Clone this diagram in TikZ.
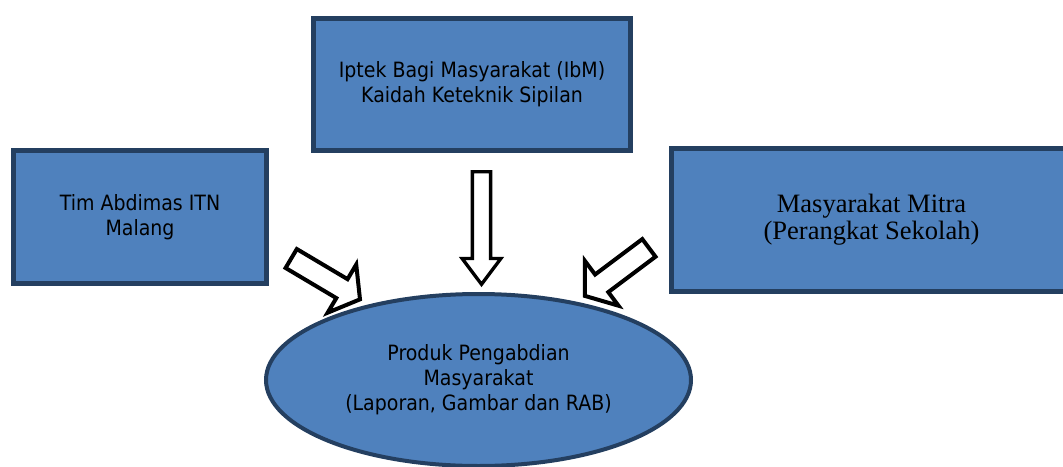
\documentclass[tikz,border=0pt]{standalone}
\usepackage{fontspec}
\setmainfont{Liberation Serif}
\newfontfamily\tah[FakeStretch=0.9]{DejaVu Sans}
\usetikzlibrary{shapes.geometric}
\definecolor{boxfill}{HTML}{4F81BD}
\definecolor{boxline}{HTML}{243F60}
\tikzset{
  bluebox/.style={draw=boxline, fill=boxfill, line width=3.75pt, rectangle, align=center, inner sep=0pt},
  sanstext/.style={font=\tah\fontsize{15.8}{18.75}\selectfont},
  seriftext/.style={font=\fontsize{19.9}{20.25}\selectfont},
  blockarrow/.style={draw=black, fill=white, line width=3pt, line join=miter},
}
\begin{document}
\begin{tikzpicture}[x=0.75pt,y=-0.75pt]
\useasboundingbox (0,0) rectangle (1063,467);
% block arrows (drawn first, the ellipse covers their tips)
\begin{scope}[shift={(291.2,258.5)}, rotate=-30.7]
  \draw[blockarrow] (0,-11) -- (59,-11) -- (59,-28) -- (80,0) -- (59,28) -- (59,11) -- (0,11) -- cycle;
\end{scope}
\begin{scope}[shift={(648.9,247.9)}, rotate=216.87]
  \draw[blockarrow] (0,-11) -- (59,-11) -- (59,-28) -- (80,0) -- (59,28) -- (59,11) -- (0,11) -- cycle;
\end{scope}
\begin{scope}[shift={(481.5,171.7)}, rotate=-90]
  \draw[blockarrow, line width=2.5pt] (0,-9.15) -- (86.8,-9.15) -- (86.8,-19.4) -- (112.6,0) -- (86.8,19.4) -- (86.8,9.15) -- (0,9.15) -- cycle;
\end{scope}
% boxes
\node[bluebox, sanstext, minimum width=237.75pt, minimum height=99pt] (ibm) at (472,84.5)
  {Iptek Bagi Masyarakat (IbM)\\Kaidah Keteknik Sipilan};
\node[bluebox, sanstext, minimum width=189.75pt, minimum height=99.75pt] (tim) at (140,217)
  {Tim Abdimas ITN\\Malang};
\node[bluebox, seriftext, minimum width=300pt, minimum height=107.25pt] (mitra) at (871.5,220)
  {Masyarakat Mitra\\(Perangkat Sekolah)};
\node[ellipse, draw=boxline, fill=boxfill, line width=3pt, sanstext, align=center,
      minimum width=318.75pt, minimum height=129pt, inner sep=0pt] (produk) at (478.5,380)
  {Produk Pengabdian\\Masyarakat\\(Laporan, Gambar dan RAB)};
\end{tikzpicture}
\end{document}
